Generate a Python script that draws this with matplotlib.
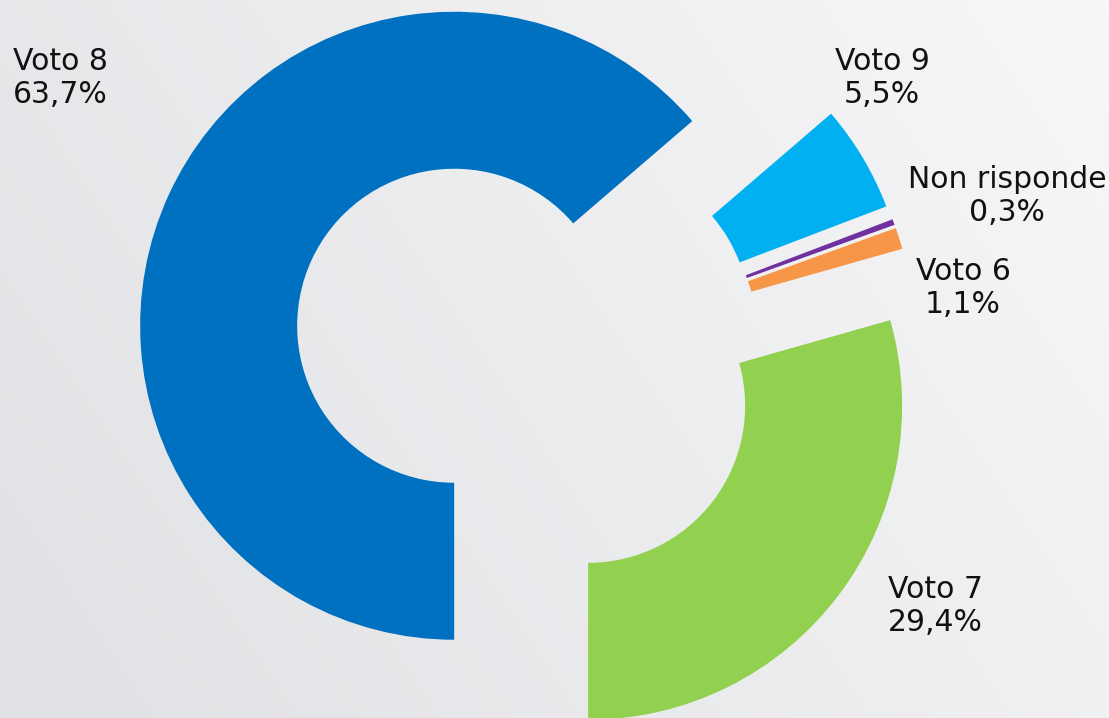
import numpy as np
import matplotlib
matplotlib.use("Agg")
import matplotlib.pyplot as plt
from matplotlib.colors import LinearSegmentedColormap

# dati
categorie = ["Voto 8", "Voto 9", "Non risponde", "Voto 6", "Voto 7"]
valori = [63.7, 5.5, 0.3, 1.1, 29.4]
colori = ["#0070C0", "#00B0F0", "#7030A0", "#F79646", "#92D050"]
etichette = [c + "\n" + ("%.1f" % v).replace(".", ",") + "%" for c, v in zip(categorie, valori)]

# posizione delle etichette in pixel (x, y, allineamento)
pos_etichette = [(13, 78, "left"), (882, 78, "center"), (1007, 196, "center"),
                 (963, 288, "center"), (888, 606, "left")]

W, H = 1109, 718
cx, cy, R = 525.5, 358.5, 314.0

fig = plt.figure(figsize=(W / 100, H / 100), dpi=100)
ax = fig.add_axes([0, 0, 1, 1])

x0, x1 = -cx / R, (W - cx) / R
y0, y1 = -(H - cy) / R, cy / R

# sfondo sfumato
gx, gy = np.meshgrid(np.linspace(0, 1, 300), np.linspace(0, 1, 200))
grad = 0.7 * gx + 0.3 * gy
cmap = LinearSegmentedColormap.from_list("bg", ["#e0e1e4", "#f7f7f9"])
ax.imshow(grad, cmap=cmap, extent=(x0, x1, y0, y1), origin="lower",
          aspect="auto", zorder=0, interpolation="bilinear")

ax.pie(valori, colors=colori, startangle=270, counterclock=False,
       explode=[0.25] * len(valori), radius=1,
       wedgeprops=dict(width=0.5, edgecolor="none", zorder=2))

ax.set_xlim(x0, x1)
ax.set_ylim(y0, y1)
ax.set_aspect("equal")
ax.axis("off")

for testo, (px, py, ha) in zip(etichette, pos_etichette):
    fig.text(px / W, 1 - py / H, testo, ha=ha, va="center", fontsize=21.5,
             color="#111111", family="DejaVu Sans", multialignment="center" if ha == "center" else "left")

fig.savefig("out.png", dpi=100)
